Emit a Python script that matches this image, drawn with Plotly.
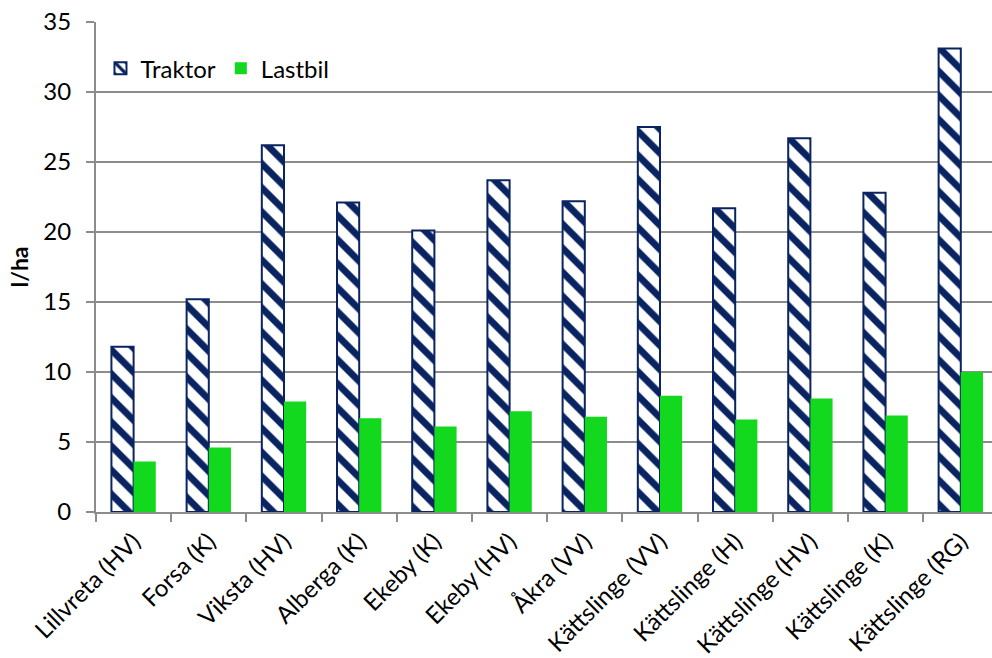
import plotly.graph_objects as go

categories = ["Lillvreta (HV)", "Forsa (K)", "Viksta (HV)", "Alberga (K)", "Ekeby (K)",
              "Ekeby (HV)", "Åkra (VV)", "Kättslinge (VV)", "Kättslinge (H)",
              "Kättslinge (HV)", "Kättslinge (K)", "Kättslinge (RG)"]
traktor = [11.8, 15.2, 26.2, 22.1, 20.1, 23.7, 22.2, 27.5, 21.7, 26.7, 22.8, 33.1]
lastbil = [3.6, 4.6, 7.9, 6.7, 6.1, 7.2, 6.8, 8.3, 6.6, 8.1, 6.9, 10.0]
y_ticks = [0, 5, 10, 15, 20, 25, 30, 35]

NAVY = "#0a2462"
GREEN = "#12d81e"
GRID = "#8c8c8c"
FONT = "Lato, 'Open Sans', sans-serif"

fig = go.Figure()
fig.add_trace(go.Bar(
    name="Traktor", x=categories, y=traktor,
    marker=dict(color="white",
                line=dict(color=NAVY, width=2),
                pattern=dict(shape="\\", fgcolor=NAVY, bgcolor="white", fgopacity=1,
                             size=17, solidity=0.4, fillmode="replace")),
))
fig.add_trace(go.Bar(
    name="Lastbil", x=categories, y=lastbil,
    marker=dict(color=GREEN, line=dict(width=0)),
))

fig.update_layout(
    width=992, height=658,
    margin=dict(l=96, r=0, t=22, b=146),
    paper_bgcolor="white", plot_bgcolor="white",
    barmode="group", bargap=0.41, bargroupgap=0,
    font=dict(family=FONT, size=24, color="#000000"),
    showlegend=True,
    legend=dict(orientation="h", x=0.005, y=0.905, xanchor="left", yanchor="middle",
                font=dict(size=24), bgcolor="rgba(0,0,0,0)", traceorder="normal",
                itemwidth=30),
)
fig.update_xaxes(
    type="category", range=[-0.5, 11.415], automargin=False,
    showline=True, linecolor=GRID, linewidth=2,
    ticks="outside", ticklen=8, tickcolor=GRID, tickwidth=2,
    tickson="boundaries", tickangle=-45, ticklabelstandoff=4,
    tickfont=dict(size=24), showgrid=False,
)
fig.update_yaxes(
    range=[0, 35], tickvals=y_ticks, automargin=False,
    showline=True, linecolor=GRID, linewidth=2,
    ticks="outside", ticklen=8, tickcolor=GRID, tickwidth=2,
    ticklabelstandoff=10,
    showgrid=True, gridcolor=GRID, gridwidth=2, zeroline=False,
    tickfont=dict(size=24),
    title=dict(text="<b>l/ha</b>", font=dict(size=23), standoff=8),
)

fig.write_html("out.html")
